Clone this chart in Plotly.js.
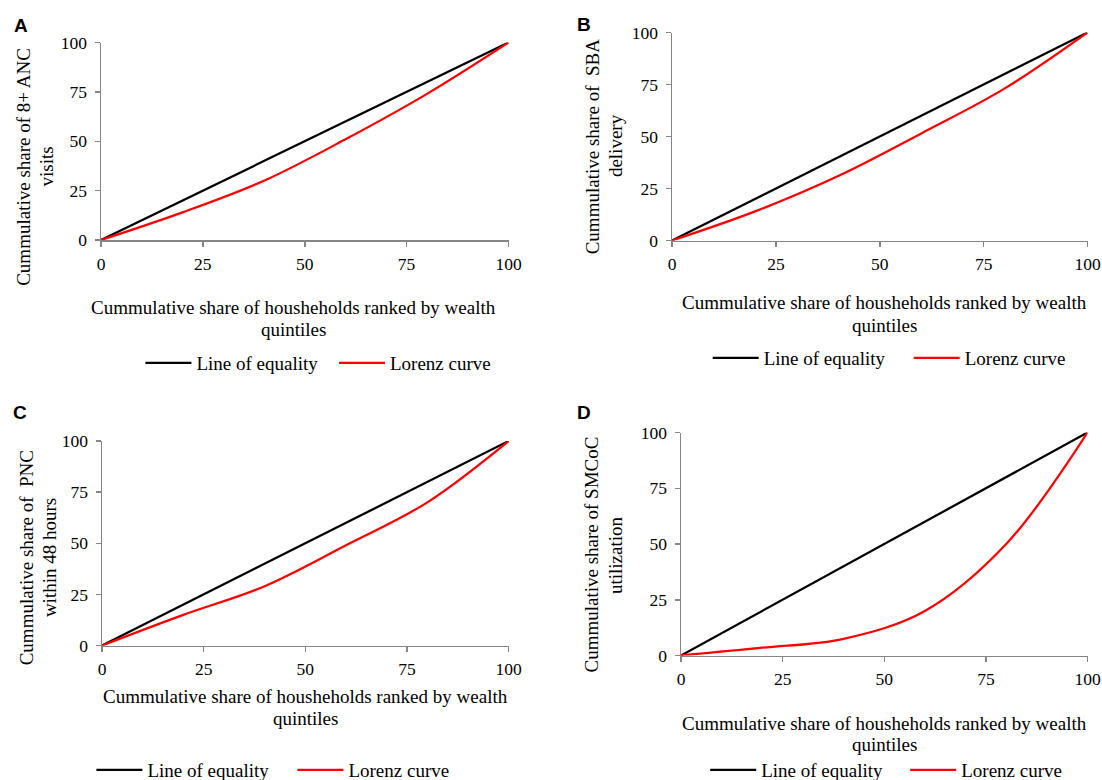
<!DOCTYPE html>
<html>
<head>
<meta charset="utf-8">
<script src="https://cdn.plot.ly/plotly-3.0.1.min.js"></script>
<style>html,body{margin:0;padding:0;background:#fff}#chart{width:1102px;height:780px}</style>
</head>
<body>
<div id="chart"></div>
<script>
// ---- data ----
const quintileShare = [0, 20, 40, 60, 80, 100];
const equality = [0, 20, 40, 60, 80, 100];
const lorenzANC = [0, 14, 30, 51, 74, 100];
const lorenzSBA = [0, 14, 31, 51.5, 73, 100];
const lorenzPNC = [0, 15, 29, 49, 70, 100];
const lorenzSMCoC = [0, 3.5, 7.5, 20, 50, 100];
const tickValues = [0, 25, 50, 75, 100];
const panelLetters = ["A", "B", "C", "D"];
const yTitles = [
  ["Cummulative share of 8+ ANC", "visits"],
  ["Cummulative share of  SBA", "delivery"],
  ["Cummulative share of  PNC", "within 48 hours"],
  ["Cummulative share of SMCoC", "utilization"]
];
const xTitle = ["Cummulative share of housheholds ranked by wealth", "quintiles"];
const seriesNames = ["Line of equality", "Lorenz curve"];
const lorenzSeries = [lorenzANC, lorenzSBA, lorenzPNC, lorenzSMCoC];

// ---- layout helpers ----
const W = 1102, H = 780;
const px = x => x / W;
const py = y => 1 - y / H;
const serif = "'Liberation Serif', 'Times New Roman', serif";
const AX = '#868686';

// plot boxes in pixels: [left, right, top, bottom]
const boxes = [
  [101, 508.5, 42.5, 240],
  [672, 1087.5, 32.5, 240.5],
  [102, 508.7, 441, 645.5],
  [681, 1087.5, 432.5, 655.5]
];
const letterPos = [[20.5, 25.5], [584, 25], [20, 412], [584, 412]];
const yTitlePos = [[22.8, 45.5, 167], [592.3, 615.1, 146], [26.3, 49.1, 558], [590.5, 615.1, 555]];
const xTitlePos = [[293.8, 308, 329], [884.2, 303, 325], [305.4, 696, 718], [884.2, 723, 744]];
const legendPos = [[140.4, 363, 132.6], [707.7, 358, 140], [91.4, 770, 140], [705.2, 770, 139]];

const traces = [];
const layout = {
  width: W, height: H,
  margin: {l: 0, r: 0, t: 0, b: 0, autoexpand: false},
  paper_bgcolor: '#fff', plot_bgcolor: '#fff',
  showlegend: true,
  annotations: []
};

boxes.forEach((b, i) => {
  const sfx = i === 0 ? '' : String(i + 1);
  const xa = 'xaxis' + sfx, ya = 'yaxis' + sfx;
  const axCommon = {
    range: [0, 100], tickvals: tickValues, ticks: 'outside', ticklen: 5,
    tickcolor: AX, tickwidth: 1.5, showline: true, linecolor: AX, linewidth: 1.5,
    showgrid: false, zeroline: false, fixedrange: true, ticklabelstandoff: 2,
    tickfont: {family: serif, size: 17.5, color: '#000'}
  };
  layout[xa] = Object.assign({}, axCommon, {domain: [px(b[0]), px(b[1])], anchor: 'y' + sfx});
  layout[ya] = Object.assign({}, axCommon, {domain: [py(b[3]), py(b[2])], anchor: 'x' + sfx, ticklabelstandoff: 4});
  const legName = i === 0 ? 'legend' : 'legend' + (i + 1);
  layout[legName] = {
    orientation: 'h', x: px(legendPos[i][0]), y: py(legendPos[i][1]),
    xanchor: 'left', yanchor: 'middle', bgcolor: 'rgba(0,0,0,0)',
    font: {family: serif, size: 19, color: '#000'},
    itemwidth: 46, entrywidth: legendPos[i][2], entrywidthmode: 'pixels', tracegroupgap: 0
  };
  traces.push({
    x: quintileShare, y: equality, type: 'scatter', mode: 'lines',
    name: seriesNames[0], xaxis: 'x' + sfx, yaxis: 'y' + sfx, legend: legName,
    line: {color: '#000000', width: 2.25}, hoverinfo: 'skip'
  });
  traces.push({
    x: quintileShare, y: lorenzSeries[i], type: 'scatter', mode: 'lines',
    name: seriesNames[1], xaxis: 'x' + sfx, yaxis: 'y' + sfx, legend: legName,
    line: {color: '#ff0000', width: 2.25, shape: 'spline', smoothing: 1}, hoverinfo: 'skip'
  });
  // panel letter
  layout.annotations.push({
    text: '<b>' + panelLetters[i] + '</b>', xref: 'paper', yref: 'paper',
    x: px(letterPos[i][0]), y: py(letterPos[i][1]), showarrow: false,
    xanchor: 'center', yanchor: 'middle',
    font: {family: "'Liberation Sans', Arial, sans-serif", size: 19, color: '#000'}
  });
  // y title lines
  const yt = yTitlePos[i];
  [0, 1].forEach(k => {
    layout.annotations.push({
      text: yTitles[i][k], xref: 'paper', yref: 'paper',
      x: px(yt[k]), y: py(yt[2]), textangle: -90, showarrow: false,
      xanchor: 'center', yanchor: 'middle',
      font: {family: serif, size: 19, color: '#000'}
    });
  });
  // x title lines
  const xt = xTitlePos[i];
  [0, 1].forEach(k => {
    layout.annotations.push({
      text: xTitle[k], xref: 'paper', yref: 'paper',
      x: px(xt[0]), y: py(xt[k + 1]), showarrow: false,
      xanchor: 'center', yanchor: 'middle',
      font: {family: serif, size: 19, color: '#000'}
    });
  });
});

Plotly.newPlot('chart', traces, layout, {displayModeBar: false, staticPlot: true});
</script>
</body>
</html>
